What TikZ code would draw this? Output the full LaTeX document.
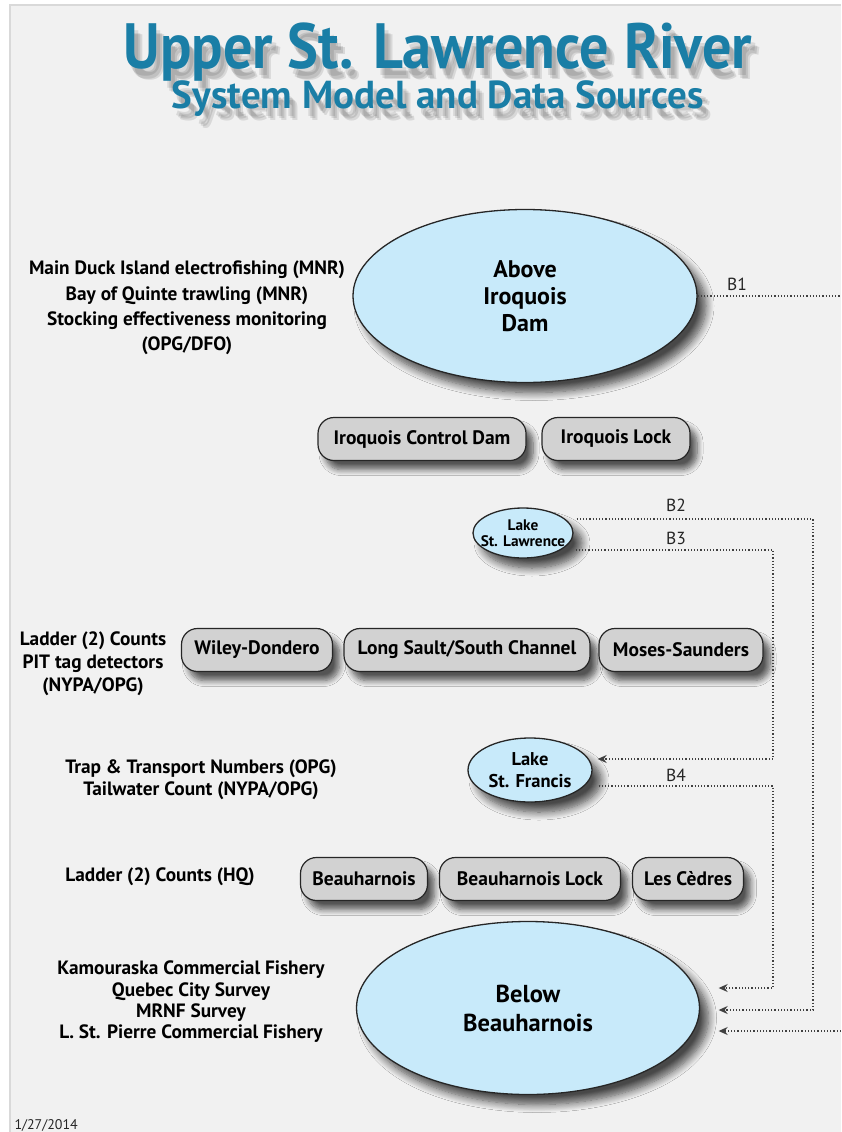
\documentclass[tikz,border=0pt]{standalone}
\usepackage{fontspec}
\setmainfont{PT Sans}
\usetikzlibrary{shapes.geometric,shadows.blur,arrows.meta,positioning}
\definecolor{riverblue}{HTML}{1A7EA6}
\definecolor{lakeblue}{HTML}{C8EAFA}
\definecolor{sitegray}{HTML}{D2D2D2}
\definecolor{paper}{HTML}{F1F1F1}
\begin{document}
\begin{tikzpicture}[x=1pt,y=-1pt,
	lake/.style={ellipse,draw=black!85,line width=1.3pt,fill=lakeblue,inner sep=0pt,
		blur shadow={shadow xshift=9pt,shadow yshift=-10pt,shadow blur radius=8pt,shadow blur steps=10,shadow opacity=70}},
	lakelabel/.style={align=center,inner sep=0pt},
	site/.style={rectangle,rounded corners=16pt,draw=black!85,line width=1.2pt,fill=sitegray,minimum height=43pt,font=\fontsize{19.5}{22}\selectfont\bfseries,
		blur shadow={shadow xshift=7pt,shadow yshift=-9pt,shadow blur radius=6pt,shadow blur steps=8,shadow opacity=65}},
	source/.style={align=center},
	link/.style={dotted,line width=1.2pt,black!75},
	tip/.style={link,-{Stealth[length=9pt,width=8pt]}},
	blabel/.style={font=\fontsize{17.5}{20}\selectfont,black!85}]
	\useasboundingbox (0,0) rectangle (841,1132);
	\fill[white] (0,0) rectangle (841,1132);
	\fill[paper] (10,5) rectangle (841,1132);
	\draw[black!15,line width=1.5pt] (10,1132)--(10,5)--(841,5);
	\foreach \dx/\dy in {4/8,6/10,8/12}{
		\node[font=\fontsize{64}{70}\selectfont\bfseries,anchor=base,opacity=.1] (tsa\dx) at (438+\dx,68+\dy) {\scalebox{0.91}[1]{Upper St. Lawrence River}};
		\node[font=\fontsize{39}{42}\selectfont\bfseries,anchor=base,opacity=.1] (tsb\dx) at (438+\dx,108+\dy) {System Model and Data Sources};
	}
	\node[font=\fontsize{64}{70}\selectfont\bfseries,anchor=base,text=riverblue] (title) at (438,68) {\scalebox{0.91}[1]{Upper St. Lawrence River}};
	\node[font=\fontsize{39}{42}\selectfont\bfseries,anchor=base,text=riverblue] (subtitle) at (438,108) {System Model and Data Sources};
	\node[lake,minimum width=344pt,minimum height=173pt,label={[lakelabel,font=\fontsize{24}{27}\selectfont\bfseries]center:Above\\Iroquois\\Dam}] (above) at (525,296) {};
	\node[lake,minimum width=100pt,minimum height=50pt,label={[lakelabel,font=\fontsize{15.3}{16}\selectfont\bfseries]center:Lake\\St. Lawrence}] (lsl) at (523,533) {};
	\node[lake,minimum width=124pt,minimum height=64pt,label={[lakelabel,font=\fontsize{18.5}{22}\selectfont\bfseries]center:Lake\\St. Francis}] (lsf) at (530,770) {};
	\node[lake,minimum width=343pt,minimum height=173pt,label={[lakelabel,font=\fontsize{24.5}{29}\selectfont\bfseries]center:Below\\Beauharnois}] (below) at (528,1008) {};
	\foreach \n/\x/\y/\w/\t in {icd/422/439/208/Iroquois Control Dam,il/616/439/148/Iroquois Lock,wd/257/650/151/Wiley-Dondero,ls/467/650/246/{Long Sault/South Channel},ms/681/650/164/Moses-Saunders,bh/364/879/127/Beauharnois,bl/530/879/181/Beauharnois Lock,lc/688/879/111/Les Cèdres}
	\node[site,minimum width=\w pt] (\n) at (\x,\y) {\t};
	\foreach \n/\x/\y/\s/\t in {srca/187/308/25.3/{Main Duck Island electrofishing (MNR)\\Bay of Quinte trawling (MNR)\\Stocking effectiveness monitoring\\(OPG/DFO)},srcb/93/664/23/{Ladder (2) Counts\\PIT tag detectors\\(NYPA/OPG)},srcc/201/780/22/{Trap \& Transport Numbers (OPG)\\Tailwater Count (NYPA/OPG)},srcd/160/877/22/{Ladder (2) Counts (HQ)},srce/191/1002/21.3/{Kamouraska Commercial Fishery\\Quebec City Survey\\MRNF Survey\\L. St. Pierre Commercial Fishery}}
	\node[source,font=\fontsize{19.3}{\s}\selectfont\bfseries] (\n) at (\x,\y) {\t};
	\node[font=\fontsize{14}{17}\selectfont,anchor=base west,black!85] (date) at (11,1129) {1/27/2014};
	\coordinate (b1out) at (841,296);
	\coordinate (b1back) at (841,1031);
	\coordinate (b2turn) at (813,1010);
	\coordinate (b3turn) at (773,759);
	\coordinate (b4turn) at (773,988);
	\draw[link] (above.east) -- (b1out);
	\draw[tip,shorten >=18.5pt] (b1back) -- (b1back -| below.east);
	\draw[tip,shorten >=18.5pt] ([xshift=3pt,yshift=14pt]lsl.east) -| (b2turn) -- (b2turn -| below.east);
	\draw[tip,shorten >=5pt] ([xshift=2pt,yshift=-17pt]lsl.east) -| (b3turn) -- (b3turn -| lsf.east);
	\draw[tip,shorten >=18.5pt] ([xshift=6pt,yshift=-16pt]lsf.east) -| (b4turn) -- (b4turn -| below.east);
	\foreach \n/\x/\y/\t in {lb1/737/284/B1,lb2/676/505/B2,lb3/676/538/B3,lb4/676/775/B4}
	\node[blabel] (\n) at (\x,\y) {\t};
\end{tikzpicture}
\end{document}
